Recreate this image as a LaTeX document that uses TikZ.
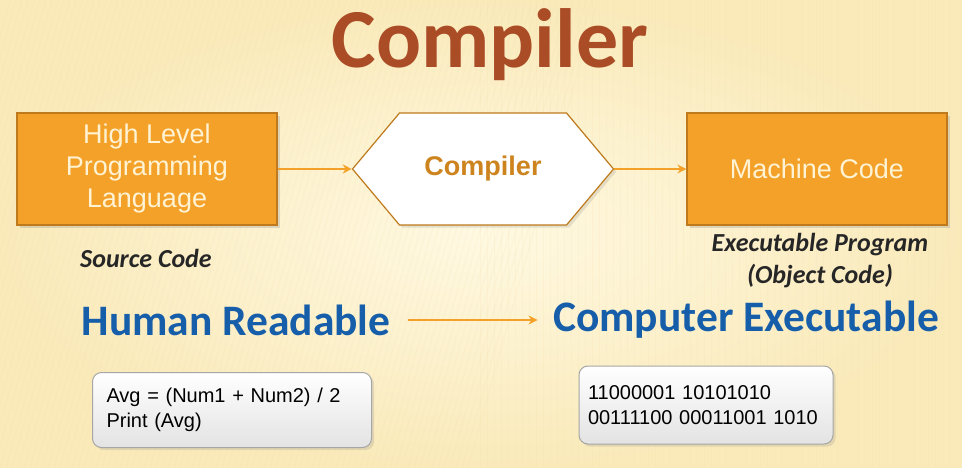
\documentclass[tikz,border=0pt]{standalone}
\usepackage{fontspec}
\setmainfont{Liberation Sans}
\newfontfamily\calibri{Carlito}
\usetikzlibrary{arrows.meta,positioning,shapes.symbols,shadows}
\definecolor{bgcol}{RGB}{250,234,186}
\definecolor{bglight}{RGB}{255,249,226}
\definecolor{boxcol}{RGB}{243,161,40}
\definecolor{boxline}{RGB}{190,122,28}
\definecolor{titlecol}{RGB}{170,76,38}
\definecolor{bluecol}{RGB}{22,94,170}
\definecolor{creamtext}{RGB}{255,243,212}
\definecolor{compcol}{RGB}{205,132,30}

\begin{document}
\begin{tikzpicture}[x=1pt,y=-1pt,
  stage/.style={rectangle,draw=boxline,line width=1.2pt,fill=boxcol,
    minimum width=260pt,minimum height=112pt,text=creamtext,align=center,
    font=\fontsize{27}{32}\selectfont,drop shadow={opacity=.25}},
  tag/.style={font=\calibri\bfseries\itshape\fontsize{26}{32}\selectfont,
    text=black!85,align=center},
  big/.style={font=\calibri\bfseries\fontsize{43.5}{46}\selectfont,text=bluecol},
  sample/.style={rectangle,rounded corners=9pt,draw=gray!70,line width=1pt,
    top color=white,bottom color=gray!22,align=left,
    font=\fontsize{20}{24.5}\selectfont,drop shadow={opacity=.2}},
  flow/.style={draw=boxcol,line width=2pt,-{Stealth[length=9pt,width=9pt]}}]
  % background
  \useasboundingbox (0,0) rectangle (962,468);
  \fill[inner color=bglight,outer color=bgcol] (0,0) rectangle (962,468);
  \foreach \x in {-120,-114,...,470}
    {\draw[bgcol!85!brown,opacity=.18,line width=.8pt] (\x,468) -- (\x+130,0);}
  \foreach \x in {480,487,...,962}
    {\draw[bgcol!85!brown,opacity=.15,line width=.8pt] (\x,0) -- (\x,468);}
  % title
  \node[font=\calibri\bfseries\fontsize{84}{84}\selectfont,text=titlecol]
    (title) at (490,45) {Compiler};
  % stages
  \node[stage] (hll) at (147,169) {High Level\\Programming\\Language};
  \node[signal,signal to=west and east,signal pointer angle=100,draw=boxline,
    line width=1.2pt,fill=white,minimum width=261pt,minimum height=112pt,
    font=\bfseries\fontsize{27}{30}\selectfont,text=compcol,
    drop shadow={opacity=.2}] (comp) at (483,169) {Compiler};
  \node[stage] (mc) at (817,169) {Machine Code};
  \draw[flow] (hll.east) -- (comp.west);
  \draw[flow] (comp.east) -- (mc.west);
  \node[tag] (src) at (146,258) {Source Code};
  \node[tag] (exe) at (820,261) {Executable Program\\(Object Code)};
  % readable vs executable
  \node[big] (human) at (236,320) {Human Readable};
  \node[big] (machine) at (746,320) {Computer Executable};
  \draw[flow,line width=1.6pt,shorten <=14pt,shorten >=12pt] (human.east) -- (machine.west);
  % samples
  \node[sample,inner xsep=14pt,text width=251pt,minimum height=75pt] (code) at (232,410)
    {Avg = (Num1 + Num2) / 2\\Print (Avg)};
  \node[sample,inner xsep=9pt,text width=236pt,minimum height=78pt] (bits) at (706,405)
    {11000001 10101010\\00111100 00011001 1010};
\end{tikzpicture}
\end{document}
